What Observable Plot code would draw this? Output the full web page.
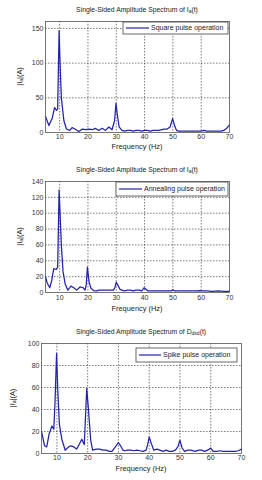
<!DOCTYPE html>
<html>
<head>
<meta charset="utf-8">
<script src="https://cdn.jsdelivr.net/npm/d3@7"></script>
<script src="https://cdn.jsdelivr.net/npm/@observablehq/plot@0.6"></script>
<style>
  html, body { margin: 0; padding: 0; background: #fff; }
  #root { position: relative; width: 262px; height: 480px; overflow: hidden; background: #fff; }
  #root svg { position: absolute; left: 0; }
</style>
</head>
<body>
<div id="root"></div>
<script>
// ---- data (frequency Hz, amplitude A) ----
const xTicks = [10, 20, 30, 40, 50, 60, 70];
const yTicksA = [0, 50, 100, 150];
const yTicksB = [0, 20, 40, 60, 80, 100, 120, 140];
const yTicksC = [0, 20, 40, 60, 80, 100];

const legendLabels = ["Square pulse operation", "Annealing pulse operation", "Spike pulse operation"];

const squarePulse = [[5,23],[6.2,10],[7.4,21],[8.2,36],[8.9,32],[9.3,34],[9.8,147],[10.1,105],[10.6,50],[11.5,17],[12.4,5],[13.6,3],[14.4,7],[15.4,5],[16.8,1.5],[18,5],[19.1,4],[20.3,5],[21.5,4],[22.6,6],[23.8,3],[25,6],[26.2,3],[27.4,8],[28.5,4],[29.4,17],[29.9,42],[30.4,25],[31,8],[32,3],[33,2],[34,3],[35,3],[36,2],[37,3],[38,3],[39,2],[40,3],[41,3],[42,2],[43,3],[44,3],[45,3],[46,4],[47,5],[48,5],[49,8],[49.9,20],[50.6,10],[51.3,3],[52,2],[53,2],[54,2],[55,2],[56,2],[57,2],[58,2],[59,2],[60,2],[61,3],[62,2],[63,2],[64,2],[65,2],[66,2],[67,2],[68,3],[69,6],[70,11]];

const annealingPulse = [[5,20],[5.6,12],[6.5,6],[7.2,15],[7.9,30],[8.8,29],[9.3,32],[9.8,129],[10.2,95],[10.6,60],[11.2,26],[12,10],[12.9,3],[14,8],[15,6],[16,3],[17.2,7],[18.3,6],[19,3],[19.4,10],[19.8,32],[20.4,13],[21.1,5],[22,2.5],[23,2],[24,3],[25,3],[26,3],[27,3],[28,3],[29,3],[29.5,6],[30,13],[30.6,9],[31.3,4],[32,3],[33,2],[34,3],[35,3],[36,2],[37,3],[38,3],[39,2],[39.8,6],[40.5,4],[41.2,2],[42,2],[44,2],[46,2],[48,2],[49.5,2],[50,3.5],[50.6,2],[52,2],[54,2],[56,2],[58,2],[59.6,2.5],[60.3,2],[62,2],[64,1.5],[66,2],[68,1.5],[70,1.5]];

const spikePulse = [[5,20],[6,7],[6.7,6],[7.5,18],[8.4,25],[9,22],[9.4,47],[9.9,91],[10.3,57],[10.8,27],[11.6,13],[12.7,3],[13.8,6],[14.6,7],[15.5,6],[16.4,4],[17.2,8],[18.1,13],[18.9,8],[19.7,59],[20.2,42],[21,12],[21.6,3],[22.8,4],[23.9,4],[25,3],[26,3],[27.1,2],[27.9,2],[29,6],[30,10],[30.7,7],[31.5,3],[32,2.5],[33,3],[34,3],[35,2.5],[36,3],[37,2.5],[38,2],[39,3],[39.5,8],[40,15],[40.7,9],[41.5,3],[42.5,4],[43.5,3],[44.5,2],[45.5,3],[46.5,2],[47.5,2],[48.5,3],[49.3,6],[50,12],[50.7,5],[51.5,2],[52.5,3],[53.5,3],[55,2],[56,3],[57,3],[58,2],[59,3],[60,5],[60.8,2],[62,2],[63,2.5],[64,2],[65,2],[66,2],[67,2],[68,2],[69,2.5],[70,4]];

const FONT = "'Liberation Sans', Arial, Helvetica, sans-serif";
const LINE = "#2323a8";

const panels = [
  {top: 0, height: 155, mt: 21, mb: 23, ml: 45, mr: 33, yDomain: [0,160], yTicks: yTicksA, data: squarePulse,
   title: ["Single-Sided Amplitude Spectrum of I", "a", "(t)"], titleY: 10, xLabelY: 147, yLabelX: 20,
   legend: {x: 123, y: 22, w: 105, h: 12, line: [126, 149], tx: 151}, label: legendLabels[0], tickPad: 2},
  {top: 158, height: 155, mt: 23, mb: 21, ml: 45, mr: 33, yDomain: [0,140], yTicks: yTicksB, data: annealingPulse,
   title: ["Single-Sided Amplitude Spectrum of I", "a", "(t)"], titleY: 170, xLabelY: 309, yLabelX: 20,
   legend: {x: 116, y: 182, w: 112, h: 14, line: [119, 142], tx: 144}, label: legendLabels[1], tickPad: 3},
  {top: 318, height: 162, mt: 25, mb: 27, ml: 41, mr: 21, yDomain: [0,100], yTicks: yTicksC, data: spikePulse,
   title: ["Single-Sided Amplitude Spectrum of D", "dsd", "(t)"], titleY: 332, xLabelY: 469, yLabelX: 13,
   legend: {x: 136, y: 348, w: 101, h: 14, line: [139, 161], tx: 163}, label: legendLabels[2], tickPad: 2}
];

const root = document.getElementById("root");

for (const p of panels) {
  const [y0, y1] = p.yDomain;
  const gx = xTicks.filter(t => t > 5 && t < 70);
  const gy = p.yTicks.filter(t => t > y0 && t < y1);
  const svgNode = Plot.plot({
    width: 262, height: p.height,
    marginTop: p.mt, marginBottom: p.mb, marginLeft: p.ml, marginRight: p.mr,
    style: {fontFamily: FONT, fontSize: "7px", color: "#333", background: "white"},
    x: {domain: [5, 70], label: null},
    y: {domain: p.yDomain, label: null},
    marks: [
      Plot.gridX(gx, {stroke: "#222", strokeOpacity: 0.85, strokeWidth: 0.7, strokeDasharray: "1.5,1.5"}),
      Plot.gridY(gy, {stroke: "#222", strokeOpacity: 0.85, strokeWidth: 0.7, strokeDasharray: "1.5,1.5"}),
      Plot.line(p.data, {x: d => d[0], y: d => d[1], stroke: LINE, strokeWidth: 1.25}),
      Plot.frame({stroke: "#555", strokeWidth: 0.8}),
      Plot.axisX({ticks: xTicks, tickSize: 0, tickPadding: p.tickPad, label: null, fill: "#333"}),
      Plot.axisY({ticks: p.yTicks, tickSize: 0, tickPadding: 2, label: null, fill: "#333"})
    ]
  });
  svgNode.style.top = p.top + "px";
  root.appendChild(svgNode);

  const svg = d3.select(svgNode);
  const left = p.ml, right = 262 - p.mr;
  const plotTop = p.mt, plotBottom = p.height - p.mb;

  // title
  const t = svg.append("text")
    .attr("x", (left + right) / 2).attr("y", p.titleY - p.top)
    .attr("text-anchor", "middle").attr("dominant-baseline", "middle")
    .attr("font-family", FONT).attr("font-size", 6.8).attr("fill", "#222");
  t.append("tspan").text(p.title[0]);
  t.append("tspan").attr("font-size", 5).attr("dy", 2).text(p.title[1]);
  t.append("tspan").attr("dy", -2).text(p.title[2]);

  // x label
  svg.append("text")
    .attr("x", (left + right) / 2).attr("y", p.xLabelY - p.top)
    .attr("text-anchor", "middle").attr("dominant-baseline", "middle")
    .attr("font-family", FONT).attr("font-size", 7.4).attr("fill", "#222")
    .text("Frequency (Hz)");

  // y label
  const yl = svg.append("text")
    .attr("transform", `translate(${p.yLabelX},${(plotTop + plotBottom) / 2}) rotate(-90)`)
    .attr("text-anchor", "middle").attr("dominant-baseline", "middle")
    .attr("font-family", FONT).attr("font-size", 7.4).attr("fill", "#222");
  yl.append("tspan").text("|I");
  yl.append("tspan").attr("font-size", 5).attr("dy", 2).text("a");
  yl.append("tspan").attr("dy", -2).text("|(A)");

  // legend
  const L = p.legend;
  svg.append("rect")
    .attr("x", L.x).attr("y", L.y - p.top).attr("width", L.w).attr("height", L.h)
    .attr("fill", "white").attr("stroke", "#444").attr("stroke-width", 0.8);
  svg.append("line")
    .attr("x1", L.line[0]).attr("x2", L.line[1])
    .attr("y1", L.y - p.top + L.h / 2).attr("y2", L.y - p.top + L.h / 2)
    .attr("stroke", LINE).attr("stroke-width", 1.2);
  svg.append("text")
    .attr("x", L.tx).attr("y", L.y - p.top + L.h / 2)
    .attr("text-anchor", "start").attr("dominant-baseline", "middle")
    .attr("font-family", FONT).attr("font-size", 7).attr("fill", "#222")
    .text(p.label);
}
</script>
</body>
</html>
